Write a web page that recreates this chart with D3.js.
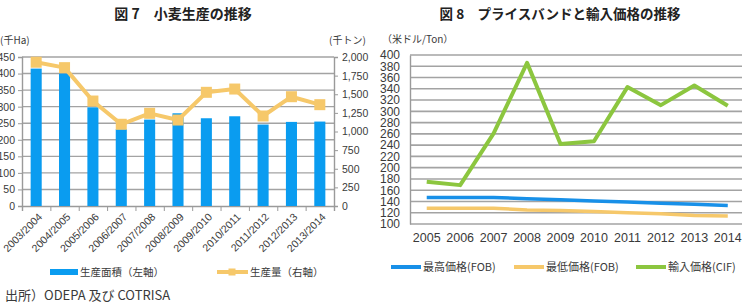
<!DOCTYPE html>
<html>
<head>
<meta charset="utf-8">
<script src="https://cdn.jsdelivr.net/npm/d3@7"></script>
<style>
  body { margin: 0; background: #fff; }
  svg { display: block; }
  text { font-family: "Liberation Sans", "Noto Sans CJK JP", sans-serif; fill: #3a3a3a; }
  .jp { font-family: "Noto Sans CJK JP", sans-serif; }
  .axis path, .axis line { stroke: #9a9a9a; }
</style>
</head>
<body>
<div id="chart"></div>
<script>
// 図7 data
const seasons = ["2003/2004", "2004/2005", "2005/2006", "2006/2007", "2007/2008", "2008/2009",
  "2009/2010", "2010/2011", "2011/2012", "2012/2013", "2013/2014"];
const area = [415, 400, 298, 232, 261, 280, 265, 271, 246, 254, 255];           // 千Ha
const production = [1930, 1857, 1409, 1097, 1244, 1154, 1526, 1570, 1208, 1467, 1360]; // 千トン
const areaTicks = [0, 50, 100, 150, 200, 250, 300, 350, 400, 450];
const prodTicks = [0, 250, 500, 750, 1000, 1250, 1500, 1750, 2000];

// 図8 data
const years = ["2005", "2006", "2007", "2008", "2009", "2010", "2011", "2012", "2013", "2014"];
const fobHigh = [147, 147, 147, 145, 143, 141, 139, 137, 135, 133];
const fobLow = [128, 128, 128, 125, 124, 122, 120, 118, 115, 114];
const cif = [175, 169, 261, 386, 242, 247, 343, 311, 346, 310];
const priceTicks = d3.range(100, 401, 20);

const W = 742, H = 306;
const BLUE = "#0a9cf0", GOLD = "#f6c86a", GREEN = "#8cc63f", LBLUE = "#1890e8";

const svg = d3.select("#chart").append("svg")
  .attr("width", W).attr("height", H);

svg.append("rect").attr("width", W).attr("height", H).attr("fill", "#fff");

// ---------- 図 7 ----------
const left = { x0: 22, x1: 334, y0: 57, y1: 206 };

svg.append("text").attr("class", "jp")
  .attr("x", 183).attr("y", 19)
  .attr("text-anchor", "middle")
  .style("font-size", "14px").style("font-weight", "bold").style("fill", "#222")
  .text("図 7　小麦生産の推移");

svg.append("text").attr("class", "jp").attr("x", 0).attr("y", 44)
  .style("font-size", "10px").text("(千Ha)");
svg.append("text").attr("class", "jp").attr("x", 329).attr("y", 44)
  .style("font-size", "10px").text("(千トン)");

const xBand = d3.scaleBand().domain(seasons).range([left.x0, left.x1]).paddingInner(0.61).paddingOuter(0.305);
const xLin = d3.scaleLinear().domain([0, seasons.length]).range([left.x0, left.x1]);
const yArea = d3.scaleLinear().domain([0, 450]).range([left.y1, left.y0]);
const yProd = d3.scaleLinear().domain([0, 2000]).range([left.y1, left.y0]);

const g7 = svg.append("g");

g7.append("g").selectAll("line").data(areaTicks.slice(1)).join("line")
  .attr("x1", left.x0).attr("x2", left.x1)
  .attr("y1", d => yArea(d)).attr("y2", d => yArea(d))
  .attr("stroke", "#a3a3a3").attr("stroke-width", 1.4);

g7.append("g").attr("class", "axis")
  .attr("transform", `translate(${left.x0},0)`)
  .call(d3.axisLeft(yArea).tickValues(areaTicks).tickSize(4).tickPadding(3))
  .call(g => g.selectAll("text").style("font-size", "10.5px"));

g7.append("g").attr("class", "axis")
  .attr("transform", `translate(${left.x1},0)`)
  .call(d3.axisRight(yProd).tickValues(prodTicks).tickSize(4).tickPadding(4).tickFormat(d3.format(",")))
  .call(g => g.selectAll("text").style("font-size", "10.5px"));

g7.append("g").attr("class", "axis")
  .attr("transform", `translate(0,${left.y1})`)
  .call(d3.axisBottom(xLin).tickValues(d3.range(seasons.length + 1)).tickSize(5).tickFormat(""));

g7.selectAll(".axis path").attr("stroke-width", 1.4);

g7.append("g").selectAll("text").data(seasons).join("text")
  .attr("transform", d => `translate(${xBand(d) + xBand.bandwidth() / 2 + 4},${left.y1 + 9}) rotate(-45)`)
  .attr("text-anchor", "end").attr("dy", "0.35em")
  .style("font-size", "10.5px")
  .text(d => d);

g7.append("g").selectAll("rect").data(area).join("rect")
  .attr("x", (d, i) => xBand(seasons[i]))
  .attr("width", xBand.bandwidth())
  .attr("y", d => yArea(d))
  .attr("height", d => left.y1 - yArea(d))
  .attr("fill", BLUE);

const prodLine = d3.line().x((d, i) => xBand(seasons[i]) + xBand.bandwidth() / 2).y(d => yProd(d));
g7.append("path").datum(production)
  .attr("d", prodLine).attr("fill", "none")
  .attr("stroke", GOLD).attr("stroke-width", 4).attr("stroke-linejoin", "round");

g7.append("g").selectAll("rect").data(production).join("rect")
  .attr("x", (d, i) => xBand(seasons[i]) + xBand.bandwidth() / 2 - 5.5)
  .attr("y", d => yProd(d) - 5.5)
  .attr("width", 11).attr("height", 11)
  .attr("fill", GOLD);

// legend 図7
const leg7 = svg.append("g").attr("transform", "translate(0,272)");
leg7.append("rect").attr("x", 50).attr("y", -3).attr("width", 28).attr("height", 6).attr("fill", BLUE);
leg7.append("text").attr("class", "jp").attr("x", 80).attr("dy", "0.35em")
  .style("font-size", "10.5px").text("生産面積（左軸）");
leg7.append("line").attr("x1", 217).attr("x2", 248).attr("stroke", GOLD).attr("stroke-width", 4);
leg7.append("rect").attr("x", 228.5).attr("y", -3.5).attr("width", 7).attr("height", 7).attr("fill", GOLD);
leg7.append("text").attr("class", "jp").attr("x", 250).attr("dy", "0.35em")
  .style("font-size", "10.5px").text("生産量（右軸）");

svg.append("text").attr("class", "jp").attr("x", 5).attr("y", 300)
  .style("font-size", "13px").text("出所）ODEPA 及び COTRISA");

// ---------- 図 8 ----------
const right = { x0: 410, x1: 744.5, y0: 55, y1: 224 };

svg.append("text").attr("class", "jp")
  .attr("x", 560).attr("y", 19)
  .attr("text-anchor", "middle")
  .style("font-size", "13.5px").style("font-weight", "bold").style("fill", "#222")
  .text("図 8　プライスバンドと輸入価格の推移");

svg.append("text").attr("class", "jp").attr("x", 382).attr("y", 43)
  .style("font-size", "10px").text("（米ドル/Ton）");

const xYear = d3.scaleBand().domain(years).range([right.x0, right.x1]);
const yPrice = d3.scaleLinear().domain([100, 400]).range([right.y1, right.y0]);

const g8 = svg.append("g");

g8.append("g").selectAll("line").data(priceTicks).join("line")
  .attr("x1", right.x0).attr("x2", right.x1)
  .attr("y1", d => yPrice(d)).attr("y2", d => yPrice(d))
  .attr("stroke", "#a3a3a3").attr("stroke-width", 1.6);

g8.append("g").attr("class", "axis")
  .attr("transform", `translate(${right.x0},0)`)
  .call(d3.axisLeft(yPrice).tickValues(priceTicks).tickSize(0).tickPadding(10))
  .call(g => g.select(".domain").attr("stroke-width", 1.4))
  .call(g => g.selectAll("text").style("font-size", "12px"));

g8.append("g")
  .attr("transform", `translate(0,${right.y1})`)
  .call(d3.axisBottom(xYear).tickSize(0).tickPadding(9))
  .call(g => g.select(".domain").remove())
  .call(g => g.selectAll("text").style("font-size", "12.5px"));

const priceLine = d3.line().x((d, i) => xYear(years[i]) + xYear.bandwidth() / 2).y(d => yPrice(d));
const series8 = [
  { name: "最高価格(FOB)", values: fobHigh, color: LBLUE, width: 3.5 },
  { name: "最低価格(FOB)", values: fobLow, color: GOLD, width: 3.5 },
  { name: "輸入価格(CIF)", values: cif, color: GREEN, width: 4 }
];

g8.selectAll("path.series").data(series8).join("path")
  .attr("class", "series")
  .attr("d", d => priceLine(d.values))
  .attr("fill", "none")
  .attr("stroke", d => d.color)
  .attr("stroke-width", d => d.width)
  .attr("stroke-linejoin", "round");

const legX = [391, 514, 636];
const leg8 = svg.append("g").attr("transform", "translate(0,267)");
const item = leg8.selectAll("g").data(series8).join("g")
  .attr("transform", (d, i) => `translate(${legX[i]},0)`);
item.append("line").attr("x1", 0).attr("x2", 30)
  .attr("stroke", d => d.color).attr("stroke-width", 4);
item.append("text").attr("class", "jp").attr("x", 32).attr("dy", "0.35em")
  .style("font-size", "11px").text(d => d.name);
</script>
</body>
</html>
